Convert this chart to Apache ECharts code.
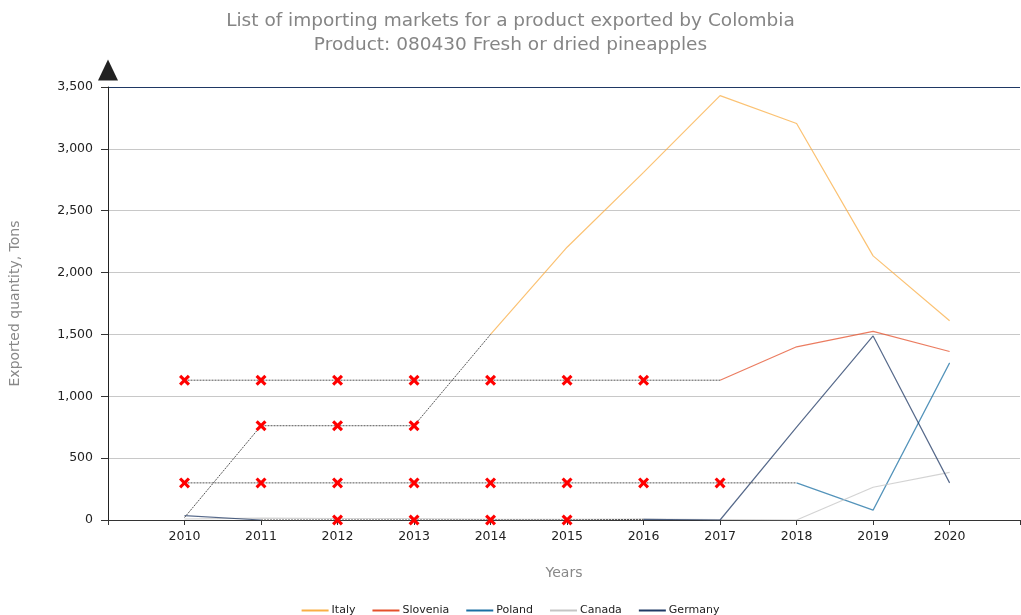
<!DOCTYPE html>
<html>
<head>
<meta charset="utf-8">
<title>Importing markets - Colombia pineapples</title>
<script src="https://cdn.jsdelivr.net/npm/echarts@6/dist/echarts.min.js"></script>
<style>
  html, body { margin: 0; padding: 0; background: #fff; }
  #chart { width: 1021px; height: 615px; }
</style>
</head>
<body>
<div id="chart"></div>
<script>
// years on the x axis
const years = [2010, 2011, 2012, 2013, 2014, 2015, 2016, 2017, 2018, 2019, 2020]

// exported quantity, tons
const italy    = [20, 762, 762, 762, 1500, 2205, 2810, 3430, 3205, 2135, 1610]
const slovenia = [1130, 1130, 1130, 1130, 1130, 1130, 1130, 1130, 1400, 1525, 1362]
const poland   = [300, 300, 300, 300, 300, 300, 300, 300, 300, 80, 1270]
const canada   = [8, 15, 12, 12, 6, 6, 8, 3, 0, 265, 385]
const germany  = [35, 0, 0, 0, 0, 0, 5, 0, 750, 1488, 300]

// 1 = estimated value (red cross, dashed line)
const italyEst    = [0, 1, 1, 1, 0, 0, 0, 0, 0, 0, 0]
const sloveniaEst = [1, 1, 1, 1, 1, 1, 1, 0, 0, 0, 0]
const polandEst   = [1, 1, 1, 1, 1, 1, 1, 1, 0, 0, 0]
const canadaEst   = [0, 0, 0, 0, 0, 0, 0, 0, 0, 0, 0]
const germanyEst  = [0, 0, 1, 1, 1, 1, 0, 0, 0, 0, 0]

const yTicks = [0, 500, 1000, 1500, 2000, 2500, 3000, 3500]

const countries = [
  { name: 'Italy', values: italy, est: italyEst, color: '#f9ae44' },
  { name: 'Slovenia', values: slovenia, est: sloveniaEst, color: '#e4502b' },
  { name: 'Poland', values: poland, est: polandEst, color: '#1a6fa3' },
  { name: 'Canada', values: canada, est: canadaEst, color: '#c4c4c4' },
  { name: 'Germany', values: germany, est: germanyEst, color: '#1f3864' }
]

// red "x" marker
const crossPath = 'path://M2,0 L5,3 L8,0 L10,2 L7,5 L10,8 L8,10 L5,7 L2,10 L0,8 L3,5 L0,2 Z'

const series = []
countries.forEach(c => {
  // real values, solid line
  series.push({
    name: c.name,
    type: 'line',
    data: years.map((y, i) => [y, c.est[i] ? '-' : c.values[i]]),
    connectNulls: false,
    showSymbol: false,
    symbol: 'none',
    color: c.color,
    lineStyle: { width: 1.2, opacity: 0.75 },
    emphasis: { disabled: true },
    z: 2
  })
  // estimated values, dashed line with crosses
  if (c.est.some(e => e)) {
    series.push({
      name: c.name + ' (est.)',
      type: 'line',
      data: years.map((y, i) => {
        const near = c.est[i] || c.est[i - 1] || c.est[i + 1]
        if (!near) return [y, '-']
        return c.est[i] ? [y, c.values[i]] : { value: [y, c.values[i]], symbol: 'none' }
      }),
      connectNulls: false,
      symbol: crossPath,
      symbolSize: 11,
      showAllSymbol: true,
      itemStyle: { color: '#ff0000' },
      lineStyle: { color: '#555', width: 1, type: [2, 1] },
      emphasis: { disabled: true },
      z: 3
    })
  }
})

const chart = echarts.init(document.getElementById('chart'))
chart.setOption({
  animation: false,
  textStyle: { fontFamily: 'DejaVu Sans' },
  title: {
    text: 'List of importing markets for a product exported by Colombia\nProduct: 080430 Fresh or dried pineapples',
    left: 'center',
    top: 4,
    textStyle: { fontSize: 18.5, fontWeight: 'normal', color: '#858585', lineHeight: 24 }
  },
  legend: {
    data: countries.map(c => c.name),
    top: 600,
    left: 'center',
    icon: 'rect',
    itemWidth: 27,
    itemHeight: 2,
    itemGap: 17,
    textStyle: { fontSize: 11, color: '#222', fontFamily: 'DejaVu Sans', padding: [0, 0, 0, -2] }
  },
  grid: { left: 108, right: 1, top: 87, bottom: 95, outerBoundsMode: 'none' },
  xAxis: {
    type: 'value',
    min: 2009,
    max: 2020.92,
    interval: 1,
    name: 'Years',
    nameLocation: 'middle',
    nameGap: 46,
    nameTextStyle: { fontSize: 14, color: '#888' },
    axisLine: { lineStyle: { color: '#333' } },
    axisTick: { length: 5, lineStyle: { color: '#333' } },
    splitLine: { show: false },
    axisLabel: {
      color: '#222',
      fontSize: 12.5,
      fontFamily: 'DejaVu Sans',
      margin: 10,
      formatter: v => (years.includes(v) ? String(v) : '')
    }
  },
  yAxis: {
    type: 'value',
    min: yTicks[0],
    max: yTicks[yTicks.length - 1],
    interval: 500,
    name: 'Exported quantity, Tons',
    nameLocation: 'middle',
    nameGap: 86,
    nameTextStyle: { fontSize: 14, color: '#888' },
    axisLine: {
      show: true,
      lineStyle: { color: '#222' },
      symbol: ['none', 'triangle'],
      symbolSize: [20, 21],
      symbolOffset: [0, 17]
    },
    axisTick: { show: true, length: 7, lineStyle: { color: '#333' } },
    axisLabel: {
      color: '#222',
      fontSize: 12.5,
      fontFamily: 'DejaVu Sans',
      margin: 15,
      formatter: v => v.toLocaleString('en-US')
    },
    splitLine: {
      lineStyle: {
        color: ['#c8c8c8', '#c8c8c8', '#c8c8c8', '#c8c8c8', '#c8c8c8', '#c8c8c8', '#c8c8c8', '#1f3864'],
        width: 1
      }
    }
  },
  series: series
})
</script>
</body>
</html>
